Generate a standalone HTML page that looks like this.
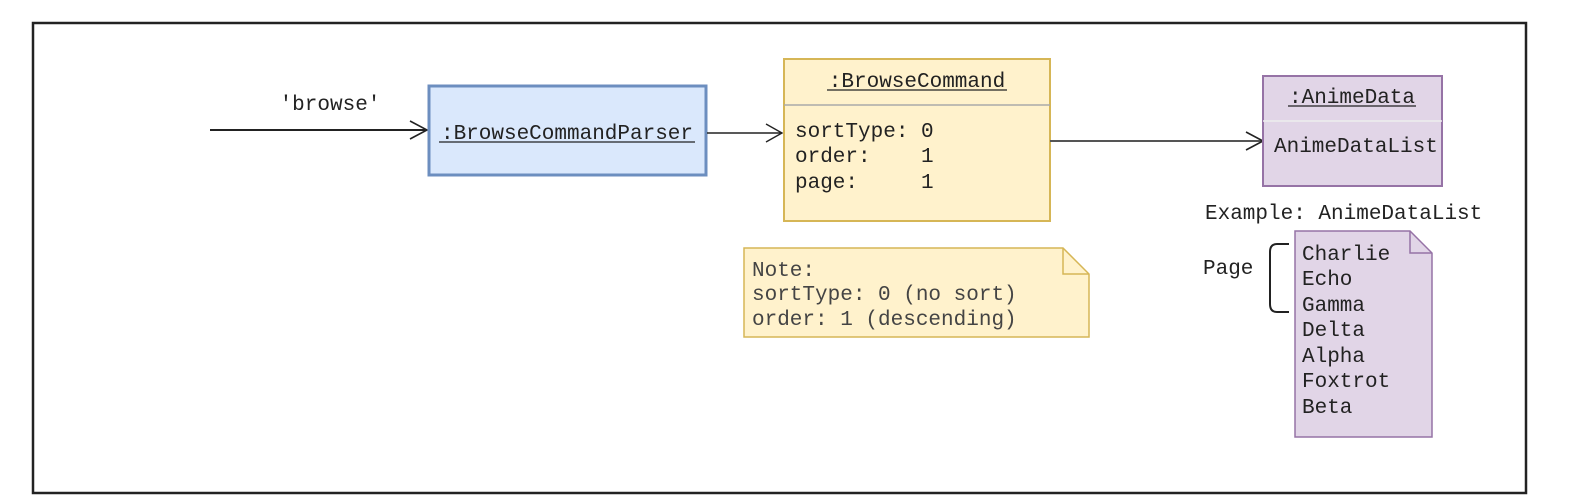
<!DOCTYPE html>
<html><head><meta charset="utf-8"><style>
html,body{margin:0;padding:0;background:#fff;}
svg{display:block;}
text{font-family:"Liberation Mono","Courier New",monospace;font-size:21px;fill:#222;white-space:pre;}
</style></head><body>
<svg width="1575" height="496" viewBox="0 0 1575 496" xmlns="http://www.w3.org/2000/svg">
<rect x="33" y="23" width="1493" height="470" fill="#fff" stroke="#222" stroke-width="2.5"/>
<!-- arrow 1 -->
<line x1="210" y1="130" x2="427" y2="130" stroke="#222" stroke-width="2"/>
<polyline points="410,121 427,130 410,139" fill="none" stroke="#222" stroke-width="1.6"/>
<text x="330" y="110" text-anchor="middle">'browse'</text>
<!-- parser -->
<rect x="429" y="86" width="277" height="89" fill="#dae8fc" stroke="#6c8ebf" stroke-width="3"/>
<text x="567" y="139" text-anchor="middle">:BrowseCommandParser</text>
<line x1="439" y1="142" x2="695" y2="142" stroke="#222" stroke-width="1.3"/>
<!-- arrow 2 -->
<line x1="707" y1="133" x2="782" y2="133" stroke="#222" stroke-width="1.4"/>
<polyline points="766,124 782,133 766,142" fill="none" stroke="#222" stroke-width="1.4"/>
<!-- BrowseCommand -->
<rect x="784" y="59" width="266" height="162" fill="#fff2cc" stroke="#d6b656" stroke-width="2"/>
<line x1="784" y1="105" x2="1050" y2="105" stroke="#aaa" stroke-width="1.5"/>
<text x="917" y="87" text-anchor="middle">:BrowseCommand</text>
<line x1="827" y1="90" x2="1007" y2="90" stroke="#222" stroke-width="1.2"/>
<text x="795" y="137">sortType: 0</text>
<text x="795" y="162">order:    1</text>
<text x="795" y="188">page:     1</text>
<!-- arrow 3 -->
<line x1="1050" y1="141" x2="1263" y2="141" stroke="#555" stroke-width="2"/>
<polyline points="1246,132 1263,141 1246,150" fill="none" stroke="#222" stroke-width="1.6"/>
<!-- AnimeData -->
<rect x="1263" y="76" width="179" height="110" fill="#e1d5e7" stroke="#9673a6" stroke-width="2"/>
<line x1="1263" y1="121" x2="1442" y2="121" stroke="#eee" stroke-width="1.5"/>
<text x="1352" y="103" text-anchor="middle">:AnimeData</text>
<line x1="1288" y1="106" x2="1416" y2="106" stroke="#222" stroke-width="1.2"/>
<text x="1274" y="152">AnimeDataList</text>
<text x="1205" y="219">Example: AnimeDataList</text>
<!-- yellow note -->
<path d="M744,248 H1063 L1089,274 V337 H744 Z" fill="#fff2cc" stroke="#d6b656" stroke-width="1.5"/>
<path d="M1063,248 V274 H1089" fill="none" stroke="#d6b656" stroke-width="1.5"/>
<text x="752" y="276" style="fill:#444">Note:</text>
<text x="752" y="300" style="fill:#444">sortType: 0 (no sort)</text>
<text x="752" y="325" style="fill:#444">order: 1 (descending)</text>
<!-- purple note -->
<path d="M1295,231 H1410 L1432,253 V437 H1295 Z" fill="#e1d5e7" stroke="#9673a6" stroke-width="1.5"/>
<path d="M1410,231 V253 H1432" fill="none" stroke="#9673a6" stroke-width="1.5"/>
<text x="1302" y="260">Charlie</text>
<text x="1302" y="285">Echo</text>
<text x="1302" y="311">Gamma</text>
<text x="1302" y="336">Delta</text>
<text x="1302" y="362">Alpha</text>
<text x="1302" y="387">Foxtrot</text>
<text x="1302" y="413">Beta</text>
<!-- brace -->
<text x="1203" y="274">Page</text>
<path d="M1289,244 H1277 Q1270,244 1270,252 V304 Q1270,312 1277,312 H1289" fill="none" stroke="#222" stroke-width="2"/>
</svg>
</body></html>
